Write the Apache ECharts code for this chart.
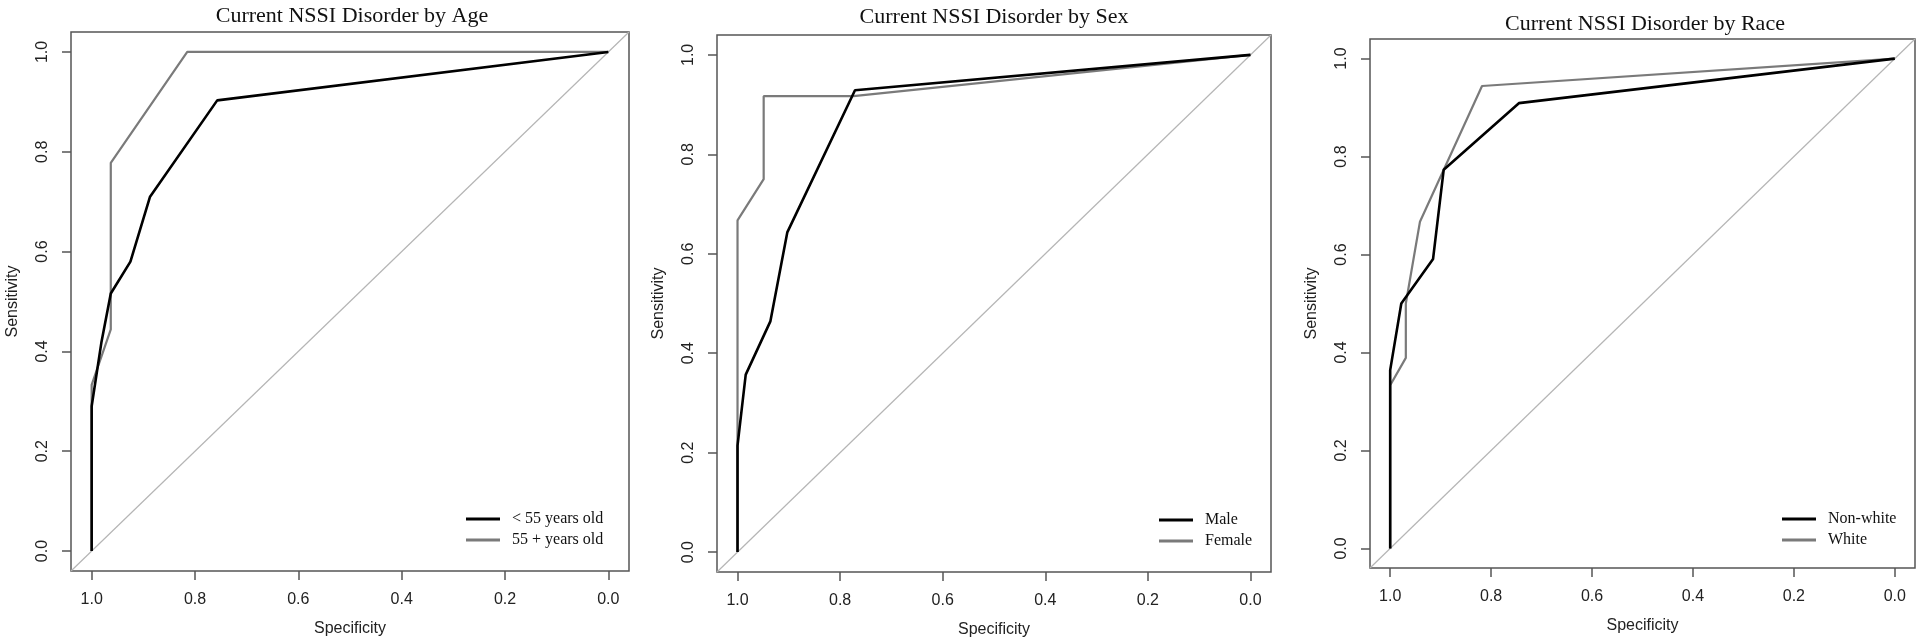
<!DOCTYPE html>
<html>
<head>
<meta charset="utf-8">
<style>
  html, body { margin: 0; padding: 0; background: #fff; }
  #chart { width: 1920px; height: 644px; }
</style>
<script src="https://cdn.jsdelivr.net/npm/echarts@6/dist/echarts.min.js"></script>
</head>
<body>
<div id="chart"></div>
<script>
// tick values shared by both axes of every panel
const ticks = [0, 0.2, 0.4, 0.6, 0.8, 1.0]

const titles = ['Current NSSI Disorder by Age', 'Current NSSI Disorder by Sex', 'Current NSSI Disorder by Race']

// by age
const youngName = '< 55 years old'
const youngSpec = [1, 1, 0.981, 0.963, 0.925, 0.887, 0.757, 0]
const youngSens = [0, 0.29, 0.419, 0.516, 0.58, 0.71, 0.903, 1]
const oldName = '55 + years old'
const oldSpec = [1, 1, 0.963, 0.963, 0.815, 0]
const oldSens = [0, 0.333, 0.444, 0.778, 1, 1]

// by sex
const maleName = 'Male'
const maleSpec = [1, 1, 0.984, 0.936, 0.903, 0.771, 0]
const maleSens = [0, 0.214, 0.357, 0.464, 0.643, 0.929, 1]
const femaleName = 'Female'
const femaleSpec = [1, 1, 0.949, 0.949, 0.774, 0]
const femaleSens = [0, 0.667, 0.75, 0.917, 0.917, 1]

// by race
const nonWhiteName = 'Non-white'
const nonWhiteSpec = [1, 1, 0.978, 0.915, 0.894, 0.745, 0]
const nonWhiteSens = [0, 0.364, 0.5, 0.591, 0.773, 0.909, 1]
const whiteName = 'White'
const whiteSpec = [1, 1, 0.969, 0.969, 0.941, 0.818, 0]
const whiteSens = [0, 0.333, 0.389, 0.5, 0.667, 0.944, 1]

// chance line, corner to corner of the plot box
const chanceSpec = [1.04, -0.04]
const chanceSens = [-0.04, 1.04]

const pairs = (xs, ys) => xs.map((x, i) => [x, ys[i]])

// plot boxes in page pixels
const boxes = [
  { left: 71, top: 32, width: 558, height: 539, title: 347, legend: [466, 511] },
  { left: 717, top: 35, width: 554, height: 537, title: 989, legend: [1159, 512] },
  { left: 1370, top: 39, width: 545, height: 529, title: 1640, legend: [1782, 511] }
]
const titleTops = [0, 1, 8]

const panels = [
  [[youngName, youngSpec, youngSens], [oldName, oldSpec, oldSens]],
  [[maleName, maleSpec, maleSens], [femaleName, femaleSpec, femaleSens]],
  [[nonWhiteName, nonWhiteSpec, nonWhiteSens], [whiteName, whiteSpec, whiteSens]]
]

const boxColor = '#555'
const sansFont = '"Liberation Sans", Arial, sans-serif'
const serifFont = '"Liberation Serif", "Times New Roman", serif'

function axisBase (name, gap, rotate, margin) {
  return {
    type: 'value',
    min: -0.04,
    max: 1.04,
    name: name,
    nameLocation: 'middle',
    nameGap: gap,
    nameTextStyle: { fontFamily: sansFont, fontSize: 16, color: '#222' },
    axisLine: { show: false, onZero: false },
    splitLine: { show: false },
    axisTick: {
      show: true,
      inside: false,
      length: 9,
      customValues: ticks,
      lineStyle: { color: boxColor, width: 1.5 }
    },
    axisLabel: {
      customValues: ticks,
      rotate: rotate,
      margin: margin,
      fontFamily: sansFont,
      fontSize: 16,
      color: '#222',
      formatter: v => v.toFixed(1)
    }
  }
}

const grid = []
const xAxis = []
const yAxis = []
const series = []
const legend = []
const title = []

boxes.forEach((b, i) => {
  grid.push({
    left: b.left, top: b.top, width: b.width, height: b.height,
    show: true, borderColor: boxColor, borderWidth: 1.5, backgroundColor: 'transparent'
  })
  xAxis.push(Object.assign(axisBase('Specificity', 50, 0, 21), { gridIndex: i, inverse: true, position: 'bottom' }))
  yAxis.push(Object.assign(axisBase('Sensitivity', 50, 90, 20), { gridIndex: i, position: 'left' }))

  title.push({
    text: titles[i],
    left: b.title,
    top: titleTops[i],
    textAlign: 'center',
    textStyle: { fontFamily: serifFont, fontSize: 22, fontWeight: 'normal', color: '#111' }
  })

  series.push({
    type: 'line',
    xAxisIndex: i,
    yAxisIndex: i,
    data: pairs(chanceSpec, chanceSens),
    symbol: 'none',
    silent: true,
    lineStyle: { color: '#b5b5b5', width: 1.2 },
    z: 1
  })

  const colors = ['#000', '#7a7a7a']
  panels[i].forEach((p, j) => {
    series.push({
      type: 'line',
      name: p[0],
      xAxisIndex: i,
      yAxisIndex: i,
      data: pairs(p[1], p[2]),
      symbol: 'none',
      color: colors[j],
      lineStyle: { color: colors[j], width: j === 0 ? 2.6 : 2.2 },
      z: j === 0 ? 3 : 2
    })
  })

  legend.push({
    data: panels[i].map(p => p[0]),
    orient: 'vertical',
    left: b.legend[0],
    top: b.legend[1],
    icon: 'rect',
    itemWidth: 34,
    itemHeight: 3,
    itemGap: 5,
    padding: 0,
    textStyle: { fontFamily: serifFont, fontSize: 16, color: '#111', padding: [0, 0, 0, 7] }
  })
})

const chart = echarts.init(document.getElementById('chart'))
chart.setOption({
  animation: false,
  backgroundColor: '#fff',
  title,
  grid,
  xAxis,
  yAxis,
  legend,
  series
})
</script>
</body>
</html>
